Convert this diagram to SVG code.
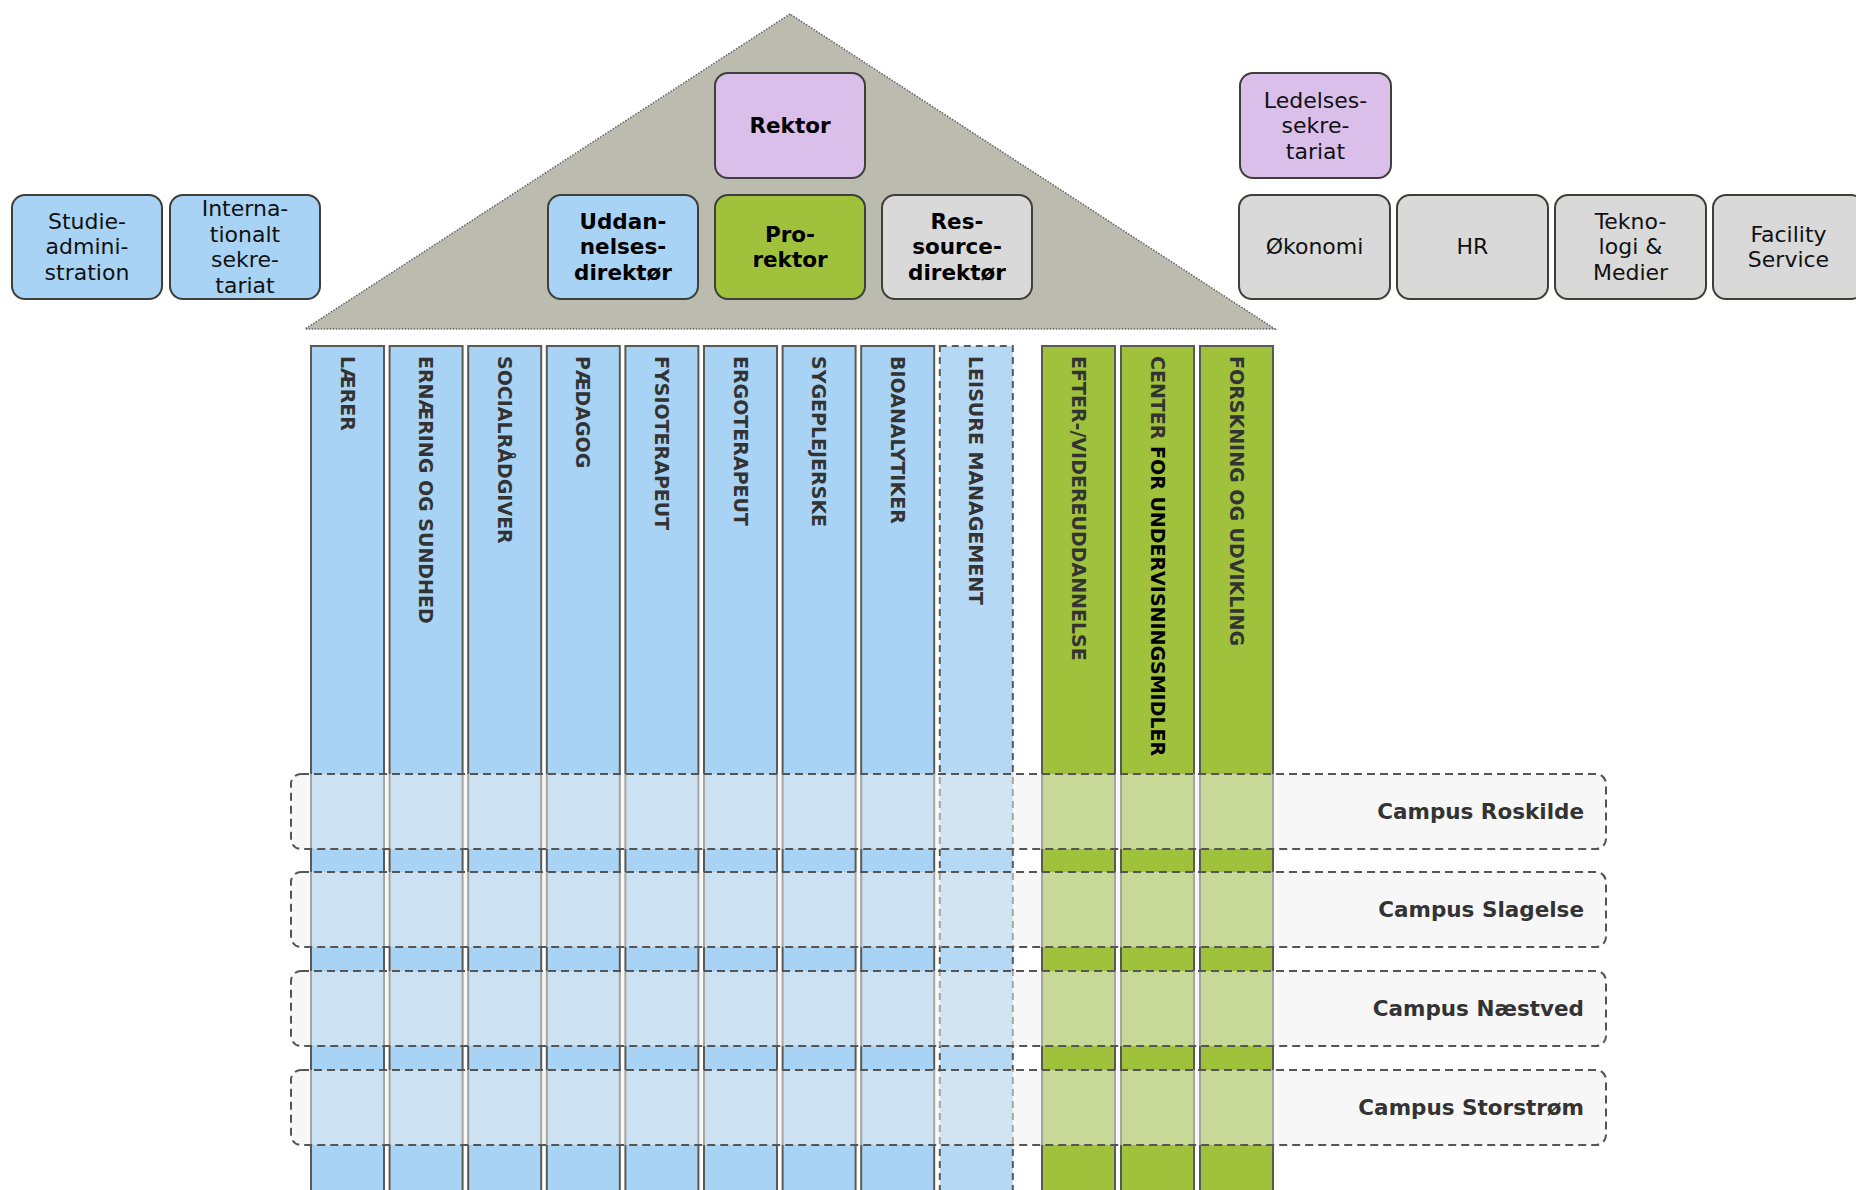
<svg xmlns="http://www.w3.org/2000/svg" width="1856" height="1190" viewBox="0 0 1856 1190">
<style>
.bx{stroke:#3f3f3a;stroke-width:2}
.blue{fill:#a8d3f5}
.purple{fill:#d9bfea}
.green{fill:#a0c13c}
.gray{fill:#d9d9d9}
.t{font-family:"DejaVu Sans",Verdana,sans-serif;font-size:22px;fill:#111;text-anchor:middle}
.tb{font-family:"DejaVu Sans",Verdana,sans-serif;font-size:21.5px;font-weight:bold;fill:#000;text-anchor:middle}
.col{stroke:#5a5a54;stroke-width:2}
.colb{fill:#a8d3f5}
.colg{fill:#a0c13c}
.ct{font-family:"DejaVu Sans",Verdana,sans-serif;font-size:19px;font-weight:bold;fill:#333}
.band{fill:#f0f0f0;fill-opacity:0.5;stroke:#555;stroke-width:2;stroke-dasharray:8 5}
.bt{font-family:"DejaVu Sans",Verdana,sans-serif;font-size:21.5px;font-weight:bold;fill:#333;text-anchor:end}
</style>
<rect width="1856" height="1190" fill="#ffffff"/>

<g id="roof">
<polygon points="790,14 305,329 1275,329" fill="#bbbbb0" stroke="#666" stroke-width="1.5" stroke-dasharray="1.5 1.5"/>
</g>

<g id="studieadministration">
<rect class="bx blue" x="12" y="195" width="150" height="104" rx="13"/>
<text class="t"><tspan x="87" y="228.5">Studie-</tspan><tspan x="87" y="254">admini-</tspan><tspan x="87" y="279.5">stration</tspan></text>
</g>
<g id="internationalt-sekretariat">
<rect class="bx blue" x="170" y="195" width="150" height="104" rx="13"/>
<text class="t"><tspan x="245" y="216">Interna-</tspan><tspan x="245" y="242">tionalt</tspan><tspan x="245" y="267">sekre-</tspan><tspan x="245" y="293">tariat</tspan></text>
</g>

<g id="rektor">
<rect class="bx purple" x="715" y="73" width="150" height="105" rx="13"/>
<text class="tb" x="790" y="133">Rektor</text>
</g>
<g id="uddannelsesdirektor">
<rect class="bx blue" x="548" y="195" width="150" height="104" rx="13"/>
<text class="tb"><tspan x="623" y="228.5">Uddan-</tspan><tspan x="623" y="254">nelses-</tspan><tspan x="623" y="279.5">direktør</tspan></text>
</g>
<g id="prorektor">
<rect class="bx green" x="715" y="195" width="150" height="104" rx="13"/>
<text class="tb"><tspan x="790" y="241.5">Pro-</tspan><tspan x="790" y="267">rektor</tspan></text>
</g>
<g id="ressourcedirektor">
<rect class="bx gray" x="882" y="195" width="150" height="104" rx="13"/>
<text class="tb"><tspan x="957" y="228.5">Res-</tspan><tspan x="957" y="254">source-</tspan><tspan x="957" y="279.5">direktør</tspan></text>
</g>

<g id="ledelsessekretariat">
<rect class="bx purple" x="1240" y="73" width="151" height="105" rx="13"/>
<text class="t"><tspan x="1315.5" y="107.5">Ledelses-</tspan><tspan x="1315.5" y="133">sekre-</tspan><tspan x="1315.5" y="158.5">tariat</tspan></text>
</g>
<g id="okonomi">
<rect class="bx gray" x="1239" y="195" width="151" height="104" rx="13"/>
<text class="t" x="1314.5" y="254">Økonomi</text>
</g>
<g id="hr">
<rect class="bx gray" x="1397" y="195" width="151" height="104" rx="13"/>
<text class="t" x="1472.5" y="254">HR</text>
</g>
<g id="teknologi-medier">
<rect class="bx gray" x="1555" y="195" width="151" height="104" rx="13"/>
<text class="t"><tspan x="1630.5" y="228.5">Tekno-</tspan><tspan x="1630.5" y="254">logi &amp;</tspan><tspan x="1630.5" y="279.5">Medier</tspan></text>
</g>
<g id="facility-service">
<rect class="bx gray" x="1713" y="195" width="151" height="104" rx="13"/>
<text class="t"><tspan x="1788.5" y="241.5">Facility</tspan><tspan x="1788.5" y="267">Service</tspan></text>
</g>

<g id="columns">
<g id="col-laerer"><rect class="col colb" x="311" y="346" width="73" height="860"/><text class="ct" transform="translate(340.5,356) rotate(90)">LÆRER</text></g>
<g id="col-ernaering"><rect class="col colb" x="389.6" y="346" width="73" height="860"/><text class="ct" transform="translate(419.1,356) rotate(90)">ERNÆRING OG SUNDHED</text></g>
<g id="col-socialradgiver"><rect class="col colb" x="468.2" y="346" width="73" height="860"/><text class="ct" transform="translate(497.7,356) rotate(90)">SOCIALRÅDGIVER</text></g>
<g id="col-paedagog"><rect class="col colb" x="546.8" y="346" width="73" height="860"/><text class="ct" transform="translate(576.3,356) rotate(90)">PÆDAGOG</text></g>
<g id="col-fysioterapeut"><rect class="col colb" x="625.4" y="346" width="73" height="860"/><text class="ct" transform="translate(654.9,356) rotate(90)">FYSIOTERAPEUT</text></g>
<g id="col-ergoterapeut"><rect class="col colb" x="704" y="346" width="73" height="860"/><text class="ct" transform="translate(733.5,356) rotate(90)">ERGOTERAPEUT</text></g>
<g id="col-sygeplejerske"><rect class="col colb" x="782.6" y="346" width="73" height="860"/><text class="ct" transform="translate(812.1,356) rotate(90)">SYGEPLEJERSKE</text></g>
<g id="col-bioanalytiker"><rect class="col colb" x="861.2" y="346" width="73" height="860"/><text class="ct" transform="translate(890.7,356) rotate(90)">BIOANALYTIKER</text></g>
<g id="col-leisure"><rect x="939.8" y="346" width="73" height="860" fill="#b5d9f5" stroke="#5a5a54" stroke-width="2" stroke-dasharray="7 5"/><text class="ct" transform="translate(969.3,356) rotate(90)">LEISURE MANAGEMENT</text></g>
<g id="col-efteruddannelse"><rect class="col colg" x="1042" y="346" width="73" height="860"/><text class="ct" transform="translate(1071.5,356) rotate(90)">EFTER-/VIDEREUDDANNELSE</text></g>
<g id="col-center"><rect class="col colg" x="1121" y="346" width="73" height="860"/><text class="ct" transform="translate(1150.5,356) rotate(90)">CENTER<tspan fill="#000"> FOR UNDERVISNINGSMIDLER</tspan></text></g>
<g id="col-forskning"><rect class="col colg" x="1200" y="346" width="73" height="860"/><text class="ct" transform="translate(1229.5,356) rotate(90)">FORSKNING OG UDVIKLING</text></g>
</g>

<g id="campus-roskilde"><rect class="band" x="291" y="774" width="1315" height="75" rx="10"/><text class="bt" x="1584" y="819">Campus Roskilde</text></g>
<g id="campus-slagelse"><rect class="band" x="291" y="872" width="1315" height="75" rx="10"/><text class="bt" x="1584" y="917">Campus Slagelse</text></g>
<g id="campus-naestved"><rect class="band" x="291" y="971" width="1315" height="75" rx="10"/><text class="bt" x="1584" y="1016">Campus Næstved</text></g>
<g id="campus-storstrom"><rect class="band" x="291" y="1070" width="1315" height="75" rx="10"/><text class="bt" x="1584" y="1115">Campus Storstrøm</text></g>

<g id="connectors"/>
</svg>
